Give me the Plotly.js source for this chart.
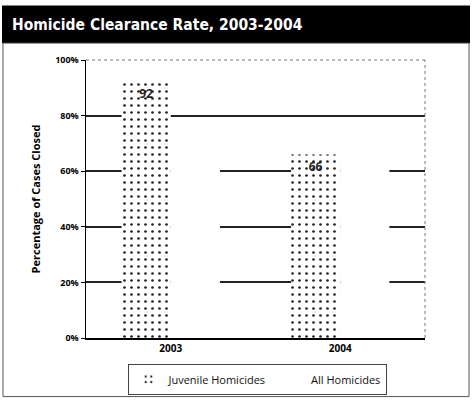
<!DOCTYPE html>
<html><head><meta charset="utf-8">
<script src="https://cdn.plot.ly/plotly-3.0.1.min.js"></script>
<style>html,body{margin:0;padding:0;background:#fff}#chart{width:472px;height:407px}</style>
</head><body><div id="chart"></div>
<script>
var years = ["2003", "2004"];
var juvenile = [92, 66];
var allHomicides = [72, 69];
var juvenileLabels = ["92", "66"];
var yTickVals = [0, 20, 40, 60, 80, 100];
var yTickText = ["0%", "20%", "40%", "60%", "80%", "100%"];

var L = 86, R = 425, T = 60, B = 340, W = 472, H = 407;
function px(x){return (x - L)/(R - L);}
function py(y){return (B - y)/(B - T);}

var traces = [
  {type:"bar", name:"Juvenile Homicides", x:years, y:juvenile,
   text:juvenileLabels, textposition:"inside", insidetextanchor:"end",
   textfont:{family:"Open Sans", size:12, color:"#222", weight:"bold"},
   marker:{color:"#ffffff", line:{width:0},
     pattern:{shape:".", fgcolor:"#222", bgcolor:"#ffffff", size:7, solidity:0.12}}},
  {type:"bar", name:"All Homicides", x:years, y:allHomicides,
   marker:{color:"#ffffff", line:{width:0}}}
];

var layout = {
  width:W, height:H,
  margin:{l:L, r:W-R, t:T, b:H-B},
  paper_bgcolor:"#fff", plot_bgcolor:"#fff",
  barmode:"group", bargap:0.42, bargroupgap:0,
  showlegend:true,
  title:{text:"Homicide Clearance Rate, 2003-2004", xref:"container", yref:"container",
    x:12/W, xanchor:"left", y:1-25/H, yanchor:"middle",
    font:{family:"DejaVu Sans Condensed", stretch:"condensed", size:15.5, color:"#fff", weight:"bold"}},
  xaxis:{type:"category", showgrid:false, showline:true, linecolor:"#000", linewidth:1.5,
    ticks:"", tickfont:{family:"Open Sans", size:10, color:"#000", weight:"bold"},
    fixedrange:true},
  yaxis:{range:[0,100], tickvals:yTickVals, ticktext:yTickText,
    showgrid:true, gridcolor:"#222", gridwidth:2, zeroline:false,
    showline:true, linecolor:"#000", linewidth:1.5,
    ticks:"outside", ticklen:4, tickcolor:"#000",
    tickfont:{family:"Open Sans", size:9, color:"#000", weight:"bold"},
    title:{text:"Percentage of Cases Closed", standoff:12,
      font:{family:"Open Sans", size:11, color:"#000", weight:"bold"}}},
  legend:{orientation:"h", x:px(257), xanchor:"center", y:py(366), yanchor:"top",
    bordercolor:"#444", borderwidth:1, bgcolor:"#fff",
    font:{family:"Open Sans", size:11, color:"#111"}, itemwidth:30},
  shapes:[
    {type:"rect", xref:"paper", yref:"paper", x0:px(2), x1:px(470), y0:py(43), y1:py(5),
     fillcolor:"#000", line:{width:0}, layer:"above"},
    {type:"rect", xref:"paper", yref:"paper", x0:px(3), x1:px(469), y0:py(399), y1:py(43),
     fillcolor:"rgba(0,0,0,0)", line:{color:"#555", width:1}, layer:"above"},
    {type:"line", xref:"paper", yref:"paper", x0:0, x1:1, y0:1, y1:1,
     line:{color:"#fff", width:3}, layer:"above"},
    {type:"line", xref:"paper", yref:"paper", x0:0, x1:1, y0:1, y1:1,
     line:{color:"#777", width:1, dash:"dot"}, layer:"above"},
    {type:"line", xref:"paper", yref:"paper", x0:1, x1:1, y0:0, y1:1,
     line:{color:"#777", width:1, dash:"dot"}, layer:"above"}
  ]
};
Plotly.newPlot("chart", traces, layout, {displayModeBar:false, staticPlot:true});
</script></body></html>
